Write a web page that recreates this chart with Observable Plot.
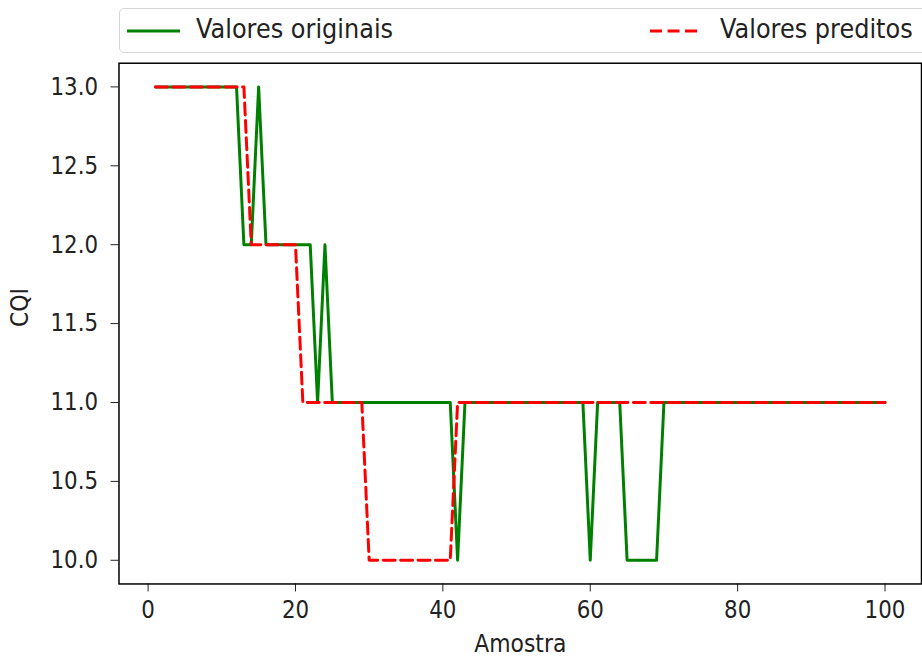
<!DOCTYPE html>
<html>
<head>
<meta charset="utf-8">
<script src="https://cdn.jsdelivr.net/npm/d3@7"></script>
<script src="https://cdn.jsdelivr.net/npm/@observablehq/plot@0.6"></script>
<style>
  html, body { margin: 0; padding: 0; background: #fff; overflow: hidden; }
  #wrap { position: relative; width: 922px; height: 661px; overflow: hidden; font-family: "DejaVu Sans", sans-serif; }
  #chart { position: absolute; left: 0; top: 0; }
  #legend { position: absolute; left: 119px; top: 8px; width: 820px; height: 45px; border: 1.5px solid #d6d6d6; border-radius: 5px; background: #fff; box-sizing: border-box; }
  .lg-line { position: absolute; top: 19px; }
  .lg-text { position: absolute; top: 3px; font-size: 24px; line-height: 34px; color: #222; white-space: nowrap; transform: scaleY(1.13); transform-origin: 50% 50%; }
</style>
</head>
<body>
<div id="wrap">
  <div id="chart"></div>
  <div id="legend"></div>
</div>
<script>
// Sample index (Amostra)
const amostra = d3.range(1, 101);

// Valores originais (CQI)
const originais = [
  13,13,13,13,13,13,13,13,13,13,
  13,13,12,12,13,12,12,12,12,12,
  12,12,11,12,11,11,11,11,11,11,
  11,11,11,11,11,11,11,11,11,11,
  11,10,11,11,11,11,11,11,11,11,
  11,11,11,11,11,11,11,11,11,10,
  11,11,11,11,10,10,10,10,10,11,
  11,11,11,11,11,11,11,11,11,11,
  11,11,11,11,11,11,11,11,11,11,
  11,11,11,11,11,11,11,11,11,11
];

// Valores preditos (CQI)
const preditos = [
  13,13,13,13,13,13,13,13,13,13,
  13,13,13,12,12,12,12,12,12,12,
  11,11,11,11,11,11,11,11,11,10,
  10,10,10,10,10,10,10,10,10,10,
  10,11,11,11,11,11,11,11,11,11,
  11,11,11,11,11,11,11,11,11,11,
  11,11,11,11,11,11,11,11,11,11,
  11,11,11,11,11,11,11,11,11,11,
  11,11,11,11,11,11,11,11,11,11,
  11,11,11,11,11,11,11,11,11,11
];

const xTicks = [0, 20, 40, 60, 80, 100];
const yTicks = [10.0, 10.5, 11.0, 11.5, 12.0, 12.5, 13.0];
const seriesNames = ["Valores originais", "Valores preditos"];
const xLabel = "Amostra";
const yLabel = "CQI";

const dataOrig = amostra.map((a, i) => ({a, v: originais[i]}));
const dataPred = amostra.map((a, i) => ({a, v: preditos[i]}));

const chart = Plot.plot({
  width: 926,
  height: 661,
  marginLeft: 119,
  marginRight: 1,
  marginTop: 63,
  marginBottom: 75,
  style: { fontFamily: "DejaVu Sans, sans-serif", fontSize: "21px", color: "#222", background: "transparent" },
  x: { domain: [-3.95, 104.95] },
  y: { domain: [9.85, 13.15] },
  marks: [
    Plot.axisX({ ticks: xTicks, tickSize: 8, tickPadding: 9, label: null, fontSize: 21.5 }),
    Plot.axisY({ ticks: yTicks, tickSize: 8, tickPadding: 13, tickFormat: d3.format(".1f"), label: null, fontSize: 21.5 }),
    Plot.lineY(dataOrig, { x: "a", y: "v", stroke: "#008000", strokeWidth: 3 }),
    Plot.lineY(dataPred, { x: "a", y: "v", stroke: "#ff0000", strokeWidth: 3, strokeDasharray: "12,5.5" }),
    Plot.frame({ stroke: "#000", strokeWidth: 1.5 }),
    Plot.text([xLabel], { frameAnchor: "bottom", lineAnchor: "middle", dy: 60, fontSize: 22, fill: "#222" }),
    Plot.text([yLabel], { frameAnchor: "left", lineAnchor: "middle", dx: -99, dy: 3.5, rotate: -90, fontSize: 22, fill: "#222" })
  ]
});

// Stretch text vertically a little, like the reference rendering
const SY = 1.15;
chart.querySelectorAll("text").forEach(t => {
  const tr = t.getAttribute("transform") || "";
  if (/translate/.test(tr)) {
    t.setAttribute("transform", tr + ` scale(1,${SY})`);
  } else {
    const x = parseFloat(t.getAttribute("x")) || 0;
    const yAttr = t.getAttribute("y");
    const y = (yAttr && !/em/.test(yAttr)) ? parseFloat(yAttr) : 0;
    t.setAttribute("transform", tr + ` translate(${x},${y}) scale(1,${SY}) translate(${-x},${-y})`);
  }
});
document.getElementById("chart").appendChild(chart);

// Legend
const legend = document.getElementById("legend");
const items = [
  { name: seriesNames[0], color: "#008000", dash: null, lineLeft: 7, lineLen: 53, textLeft: 76 },
  { name: seriesNames[1], color: "#ff0000", dash: "12,5.5", lineLeft: 530, lineLen: 50, textLeft: 600 }
];
const ns = "http://www.w3.org/2000/svg";
for (const it of items) {
  const svg = document.createElementNS(ns, "svg");
  svg.setAttribute("class", "lg-line");
  svg.style.left = it.lineLeft + "px";
  svg.setAttribute("width", it.lineLen);
  svg.setAttribute("height", 6);
  const line = document.createElementNS(ns, "line");
  line.setAttribute("x1", 0); line.setAttribute("x2", it.lineLen);
  line.setAttribute("y1", 3); line.setAttribute("y2", 3);
  line.setAttribute("stroke", it.color);
  line.setAttribute("stroke-width", 3);
  if (it.dash) line.setAttribute("stroke-dasharray", it.dash);
  svg.appendChild(line);
  legend.appendChild(svg);
  const span = document.createElement("div");
  span.className = "lg-text";
  span.style.left = it.textLeft + "px";
  span.textContent = it.name;
  legend.appendChild(span);
}
</script>
</body>
</html>
